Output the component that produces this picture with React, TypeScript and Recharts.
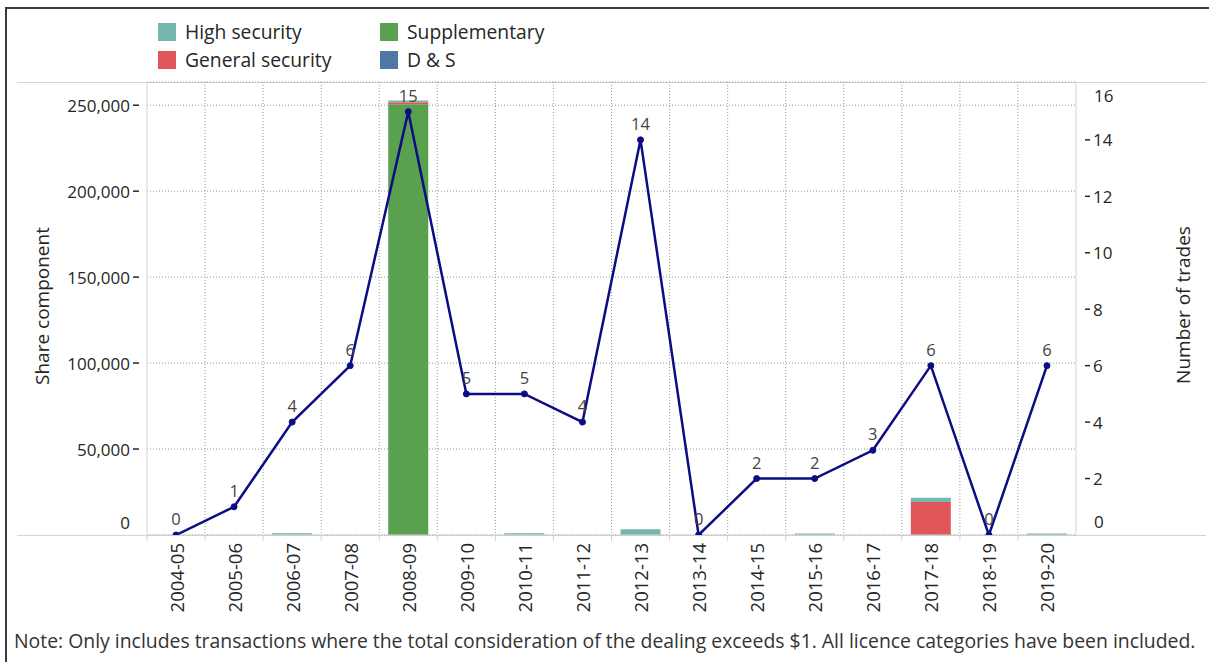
import React from "react";
import {
  ComposedChart,
  Bar,
  Line,
  XAxis,
  YAxis,
  CartesianGrid,
  LabelList,
} from "recharts";

const years = [
  "2004-05", "2005-06", "2006-07", "2007-08", "2008-09", "2009-10", "2010-11", "2011-12",
  "2012-13", "2013-14", "2014-15", "2015-16", "2016-17", "2017-18", "2018-19", "2019-20",
];
const highSecurity = [0, 0, 1000, 0, 1000, 0, 1000, 0, 3300, 0, 0, 900, 0, 2400, 0, 900];
const generalSecurity = [0, 0, 0, 0, 1200, 0, 0, 0, 0, 0, 0, 0, 0, 19200, 0, 0];
const supplementary = [0, 0, 0, 0, 250500, 0, 0, 0, 0, 0, 0, 0, 0, 0, 0, 0];
const dAndS = [0, 0, 0, 0, 0, 0, 0, 0, 0, 0, 0, 0, 0, 0, 0, 0];
const trades = [0, 1, 4, 6, 15, 5, 5, 4, 14, 0, 2, 2, 3, 6, 0, 6];

const leftTicks = [0, 50000, 100000, 150000, 200000, 250000];
const rightTicks = [0, 2, 4, 6, 8, 10, 12, 14, 16];

const data = years.map((year, i) => ({
  year,
  high: highSecurity[i],
  general: generalSecurity[i],
  supp: supplementary[i],
  ds: dAndS[i],
  trades: trades[i],
}));

const FONT = "'Open Sans', sans-serif";
const TEXT = "#262626";
const GRID = "#d4d4d4";
const COLORS = {
  high: "#76B7B2",
  general: "#E15759",
  supp: "#59A14F",
  ds: "#4E79A7",
  line: "#0c0c84",
};

const W = 1209;
const H = 662;
const PLOT_LEFT = 147;
const PLOT_RIGHT = 1076;
const PLOT_TOP = 82;
const PLOT_BOTTOM = 535;
const BAND = (PLOT_RIGHT - PLOT_LEFT) / years.length;

const fmt = (v: number) => v.toLocaleString("en-US");

function LeftTick({ x, y, payload }: any) {
  const v = payload.value;
  if (v === 0) {
    return (
      <text x={x - 9} y={y - 13} textAnchor="end" dominantBaseline="central"
        fontFamily={FONT} fontSize={17} fill={TEXT}>0</text>
    );
  }
  return (
    <g>
      <line x1={x - 6} x2={x} y1={y} y2={y} stroke={TEXT} strokeWidth={1.5} />
      <text x={x - 9} y={y} textAnchor="end" dominantBaseline="central"
        fontFamily={FONT} fontSize={17} fill={TEXT}>{fmt(v)}</text>
    </g>
  );
}

function RightTick({ x, y, payload }: any) {
  const v = payload.value;
  if (v === 0 || v === 16) {
    return (
      <text x={x + 10} y={v === 0 ? y - 14 : y + 12} textAnchor="start" dominantBaseline="central"
        fontFamily={FONT} fontSize={17} fill={TEXT}>{v}</text>
    );
  }
  return (
    <g>
      <line x1={x + 1} x2={x + 6} y1={y} y2={y} stroke={TEXT} strokeWidth={1.5} />
      <text x={x + 9} y={y} textAnchor="start" dominantBaseline="central"
        fontFamily={FONT} fontSize={17} fill={TEXT}>{v}</text>
    </g>
  );
}

function XTick({ x, payload }: any) {
  const left = x - BAND / 2;
  return (
    <g>
      <line x1={left} x2={left} y1={PLOT_BOTTOM} y2={PLOT_BOTTOM + 6} stroke={GRID} />
      <text
        transform={`translate(${x},${PLOT_BOTTOM + 8}) rotate(-90)`}
        textAnchor="end"
        dominantBaseline="central"
        fontFamily={FONT}
        fontSize={18.5}
        fill={TEXT}
      >
        {payload.value}
      </text>
    </g>
  );
}

function LegendItem({ color, label, left, top }: any) {
  return (
    <div style={{ position: "absolute", left, top, display: "flex", alignItems: "center" }}>
      <div style={{ width: 18, height: 18, background: color, marginRight: 9 }} />
      <span style={{ fontFamily: FONT, fontSize: 19.3, color: TEXT, lineHeight: "18px" }}>{label}</span>
    </div>
  );
}

export default function App() {
  return (
    <div style={{ position: "absolute", left: 0, top: 0, width: W, height: H, background: "#fff", overflow: "hidden" }}>
      <div style={{ position: "absolute", left: 5, top: 7, width: W, height: H, borderLeft: "2px solid #3a3a3a", borderTop: "2px solid #3a3a3a" }} />
      <div style={{ position: "absolute", left: 17, top: PLOT_TOP, width: 1189, height: 1, background: GRID }} />
      <div style={{ position: "absolute", left: 17, top: PLOT_BOTTOM, width: 1189, height: 1, background: GRID }} />

      <LegendItem color={COLORS.high} label="High security" left={158} top={23} />
      <LegendItem color={COLORS.general} label="General security" left={158} top={51} />
      <LegendItem color={COLORS.supp} label="Supplementary" left={380} top={23} />
      <LegendItem color={COLORS.ds} label="D & S" left={380} top={51} />

      <div style={{ position: "absolute", left: 0, top: 0 }}>
        <ComposedChart
          width={W}
          height={H}
          data={data}
          barCategoryGap={9}
          margin={{ top: PLOT_TOP, right: W - PLOT_RIGHT - 70, bottom: H - PLOT_BOTTOM - 60, left: PLOT_LEFT - 70 }}
        >
          <CartesianGrid
            xAxisId="x"
            yAxisId="left"
            stroke="#9a9a9a"
            strokeDasharray="1 2"
            verticalCoordinatesGenerator={({ offset }: any) =>
              years.slice(1).map((_, i) => offset.left + ((i + 1) * offset.width) / years.length)
            }
          />
          <XAxis
            xAxisId="x"
            dataKey="year"
            interval={0}
            height={60}
            tickLine={false}
            axisLine={{ stroke: GRID }}
            tick={<XTick />}
          />
          <YAxis
            yAxisId="left"
            orientation="left"
            width={70}
            domain={[0, 263500]}
            ticks={leftTicks}
            tickLine={false}
            axisLine={{ stroke: GRID }}
            tick={<LeftTick />}
            allowDataOverflow
          />
          <YAxis
            yAxisId="right"
            orientation="right"
            width={70}
            domain={[0, 16.05]}
            ticks={rightTicks}
            tickLine={false}
            axisLine={{ stroke: GRID }}
            tick={<RightTick />}
            allowDataOverflow
          />
          <Bar xAxisId="x" yAxisId="left" dataKey="supp" stackId="s" fill={COLORS.supp} isAnimationActive={false} />
          <Bar xAxisId="x" yAxisId="left" dataKey="general" stackId="s" fill={COLORS.general} isAnimationActive={false} />
          <Bar xAxisId="x" yAxisId="left" dataKey="high" stackId="s" fill={COLORS.high} isAnimationActive={false} />
          <Bar xAxisId="x" yAxisId="left" dataKey="ds" stackId="s" fill={COLORS.ds} isAnimationActive={false} />
          <Line
            xAxisId="x"
            yAxisId="right"
            dataKey="trades"
            stroke={COLORS.line}
            strokeWidth={2.5}
            dot={{ r: 3, fill: COLORS.line, stroke: COLORS.line, strokeWidth: 1 }}
            activeDot={false}
            isAnimationActive={false}
          >
            <LabelList dataKey="trades" position="top" offset={10} fontFamily={FONT} fontSize={16.5} fill="#444" />
          </Line>
        </ComposedChart>
      </div>

      <div style={{ position: "absolute", left: 42, top: 306, transform: "translate(-50%,-50%) rotate(-90deg)", whiteSpace: "nowrap", fontFamily: FONT, fontSize: 19, color: TEXT }}>
        Share component
      </div>
      <div style={{ position: "absolute", left: 1183, top: 305, transform: "translate(-50%,-50%) rotate(-90deg)", whiteSpace: "nowrap", fontFamily: FONT, fontSize: 19, color: TEXT }}>
        Number of trades
      </div>
      <div style={{ position: "absolute", left: 14, top: 627, whiteSpace: "nowrap", fontFamily: FONT, fontSize: 19.4, color: "#333" }}>
        Note: Only includes transactions where the total consideration of the dealing exceeds $1. All licence categories have been included.
      </div>
    </div>
  );
}
